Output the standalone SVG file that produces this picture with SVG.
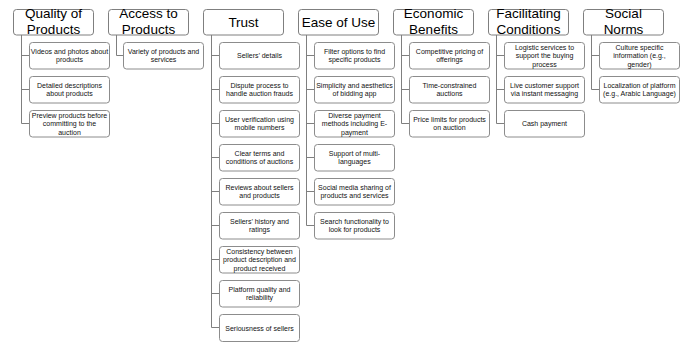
<svg xmlns="http://www.w3.org/2000/svg" width="688" height="347" viewBox="0 0 688 347">
<style>
.hb{fill:#fff;stroke:#7f7f7f;stroke-width:1}
.cb{fill:#fff;stroke:#8c8c8c;stroke-width:1}
.ht{font-family:"Liberation Sans",Arial,sans-serif;font-size:13.5px;fill:#000;text-anchor:middle}
.ct{font-family:"Liberation Sans",Arial,sans-serif;font-size:7px;fill:#111;text-anchor:middle}
.cn{fill:none;stroke:#7f7f7f;stroke-width:1}
</style>
<rect width="688" height="347" fill="#fff"/>
<g id="connectors">
<path class="cn" d="M21.5 35V123.5H29M21.5 55.5H29M21.5 89.5H29"/>
<path class="cn" d="M116.5 35V55.5H123"/>
<path class="cn" d="M211.5 35V327.5H219M211.5 55.5H219M211.5 89.5H219M211.5 123.5H219M211.5 157.5H219M211.5 191.5H219M211.5 225.5H219M211.5 259.5H219M211.5 293.5H219"/>
<path class="cn" d="M306.5 35V225.5H314M306.5 55.5H314M306.5 89.5H314M306.5 123.5H314M306.5 157.5H314M306.5 191.5H314"/>
<path class="cn" d="M401.5 35V123.5H409M401.5 55.5H409M401.5 89.5H409"/>
<path class="cn" d="M496.5 35V123.5H504M496.5 55.5H504M496.5 89.5H504"/>
<path class="cn" d="M591.5 35V89.5H599M591.5 55.5H599"/>
</g>
<g id="h-quality"><rect class="hb" x="13.5" y="9.5" width="80" height="25.5" rx="3"/><text class="ht" x="53.5" y="18.3">Quality of</text><text class="ht" x="53.5" y="34">Products</text></g>
<g id="h-access"><rect class="hb" x="108.5" y="9.5" width="80" height="25.5" rx="3"/><text class="ht" x="148.5" y="18.3">Access to</text><text class="ht" x="148.5" y="34">Products</text></g>
<g id="h-trust"><rect class="hb" x="203.5" y="9.5" width="80" height="25.5" rx="3"/><text class="ht" x="243.5" y="27">Trust</text></g>
<g id="h-ease"><rect class="hb" x="298.5" y="9.5" width="80" height="25.5" rx="3"/><text class="ht" x="338.5" y="27">Ease of Use</text></g>
<g id="h-econ"><rect class="hb" x="393.5" y="9.5" width="80" height="25.5" rx="3"/><text class="ht" x="433.5" y="18.3">Economic</text><text class="ht" x="433.5" y="34">Benefits</text></g>
<g id="h-facil"><rect class="hb" x="488.5" y="9.5" width="80" height="25.5" rx="3"/><text class="ht" x="528.5" y="18.3">Facilitating</text><text class="ht" x="528.5" y="34">Conditions</text></g>
<g id="h-social"><rect class="hb" x="583.5" y="9.5" width="80" height="25.5" rx="3"/><text class="ht" x="623.5" y="18.3">Social</text><text class="ht" x="623.5" y="34">Norms</text></g>

<g id="q1"><rect class="cb" x="29.5" y="42.5" width="80" height="26.5" rx="3"/><text class="ct" x="69.5" y="53.5">Videos and photos about</text><text class="ct" x="69.5" y="62">products</text></g>
<g id="q2"><rect class="cb" x="29.5" y="76.5" width="80" height="26.5" rx="3"/><text class="ct" x="69.5" y="87.5">Detailed descriptions</text><text class="ct" x="69.5" y="96">about products</text></g>
<g id="q3"><rect class="cb" x="29.5" y="110.5" width="80" height="26.5" rx="3"/><text class="ct" x="69.5" y="117.5">Preview products before</text><text class="ct" x="69.5" y="126">committing to the</text><text class="ct" x="69.5" y="134.5">auction</text></g>

<g id="a1"><rect class="cb" x="123.5" y="42.5" width="80" height="26.5" rx="3"/><text class="ct" x="163.5" y="53.5">Variety of products and</text><text class="ct" x="163.5" y="62">services</text></g>

<g id="t1"><rect class="cb" x="219.5" y="42.5" width="80" height="26.5" rx="3"/><text class="ct" x="259.5" y="58">Sellers’ details</text></g>
<g id="t2"><rect class="cb" x="219.5" y="76.5" width="80" height="26.5" rx="3"/><text class="ct" x="259.5" y="87.5">Dispute process to</text><text class="ct" x="259.5" y="96">handle auction frauds</text></g>
<g id="t3"><rect class="cb" x="219.5" y="110.5" width="80" height="26.5" rx="3"/><text class="ct" x="259.5" y="121.5">User verification using</text><text class="ct" x="259.5" y="130">mobile numbers</text></g>
<g id="t4"><rect class="cb" x="219.5" y="144.5" width="80" height="26.5" rx="3"/><text class="ct" x="259.5" y="155.5">Clear terms and</text><text class="ct" x="259.5" y="164">conditions of auctions</text></g>
<g id="t5"><rect class="cb" x="219.5" y="178.5" width="80" height="26.5" rx="3"/><text class="ct" x="259.5" y="189.5">Reviews about sellers</text><text class="ct" x="259.5" y="198">and products</text></g>
<g id="t6"><rect class="cb" x="219.5" y="212.5" width="80" height="26.5" rx="3"/><text class="ct" x="259.5" y="223.5">Sellers’ history and</text><text class="ct" x="259.5" y="232">ratings</text></g>
<g id="t7"><rect class="cb" x="219.5" y="246.5" width="80" height="26.5" rx="3"/><text class="ct" x="259.5" y="253.5">Consistency between</text><text class="ct" x="259.5" y="262">product description and</text><text class="ct" x="259.5" y="270.5">product received</text></g>
<g id="t8"><rect class="cb" x="219.5" y="280.5" width="80" height="26.5" rx="3"/><text class="ct" x="259.5" y="291.5">Platform quality and</text><text class="ct" x="259.5" y="300">reliability</text></g>
<g id="t9"><rect class="cb" x="219.5" y="314.5" width="80" height="27" rx="3"/><text class="ct" x="259.5" y="330.5">Seriousness of sellers</text></g>

<g id="e1"><rect class="cb" x="314.5" y="42.5" width="80" height="26.5" rx="3"/><text class="ct" x="354.5" y="53.5">Filter options to find</text><text class="ct" x="354.5" y="62">specific products</text></g>
<g id="e2"><rect class="cb" x="314.5" y="76.5" width="80" height="26.5" rx="3"/><text class="ct" x="354.5" y="87.5">Simplicity and aesthetics</text><text class="ct" x="354.5" y="96">of bidding app</text></g>
<g id="e3"><rect class="cb" x="314.5" y="110.5" width="80" height="26.5" rx="3"/><text class="ct" x="354.5" y="117.5">Diverse payment</text><text class="ct" x="354.5" y="126">methods including E-</text><text class="ct" x="354.5" y="134.5">payment</text></g>
<g id="e4"><rect class="cb" x="314.5" y="144.5" width="80" height="26.5" rx="3"/><text class="ct" x="354.5" y="155.5">Support of multi-</text><text class="ct" x="354.5" y="164">languages</text></g>
<g id="e5"><rect class="cb" x="314.5" y="178.5" width="80" height="26.5" rx="3"/><text class="ct" x="354.5" y="189.5">Social media sharing of</text><text class="ct" x="354.5" y="198">products and services</text></g>
<g id="e6"><rect class="cb" x="314.5" y="212.5" width="80" height="26.5" rx="3"/><text class="ct" x="354.5" y="223.5">Search functionality to</text><text class="ct" x="354.5" y="232">look for products</text></g>

<g id="b1"><rect class="cb" x="409.5" y="42.5" width="80" height="26.5" rx="3"/><text class="ct" x="449.5" y="53.5">Competitive pricing of</text><text class="ct" x="449.5" y="62">offerings</text></g>
<g id="b2"><rect class="cb" x="409.5" y="76.5" width="80" height="26.5" rx="3"/><text class="ct" x="449.5" y="87.5">Time-constrained</text><text class="ct" x="449.5" y="96">auctions</text></g>
<g id="b3"><rect class="cb" x="409.5" y="110.5" width="80" height="26.5" rx="3"/><text class="ct" x="449.5" y="121.5">Price limits for products</text><text class="ct" x="449.5" y="130">on auction</text></g>

<g id="f1"><rect class="cb" x="504.5" y="42.5" width="80" height="26.5" rx="3"/><text class="ct" x="544.5" y="49.5">Logistic services to</text><text class="ct" x="544.5" y="58">support the buying</text><text class="ct" x="544.5" y="66.5">process</text></g>
<g id="f2"><rect class="cb" x="504.5" y="76.5" width="80" height="26.5" rx="3"/><text class="ct" x="544.5" y="87.5">Live customer support</text><text class="ct" x="544.5" y="96">via instant messaging</text></g>
<g id="f3"><rect class="cb" x="504.5" y="110.5" width="80" height="26.5" rx="3"/><text class="ct" x="544.5" y="126">Cash payment</text></g>

<g id="s1"><rect class="cb" x="599.5" y="42.5" width="80" height="26.5" rx="3"/><text class="ct" x="639.5" y="49.5">Culture specific</text><text class="ct" x="639.5" y="58">information (e.g.,</text><text class="ct" x="639.5" y="66.5">gender)</text></g>
<g id="s2"><rect class="cb" x="599.5" y="76.5" width="80" height="26.5" rx="3"/><text class="ct" x="639.5" y="87.5">Localization of platform</text><text class="ct" x="639.5" y="96">(e.g., Arabic Language)</text></g>
</svg>
